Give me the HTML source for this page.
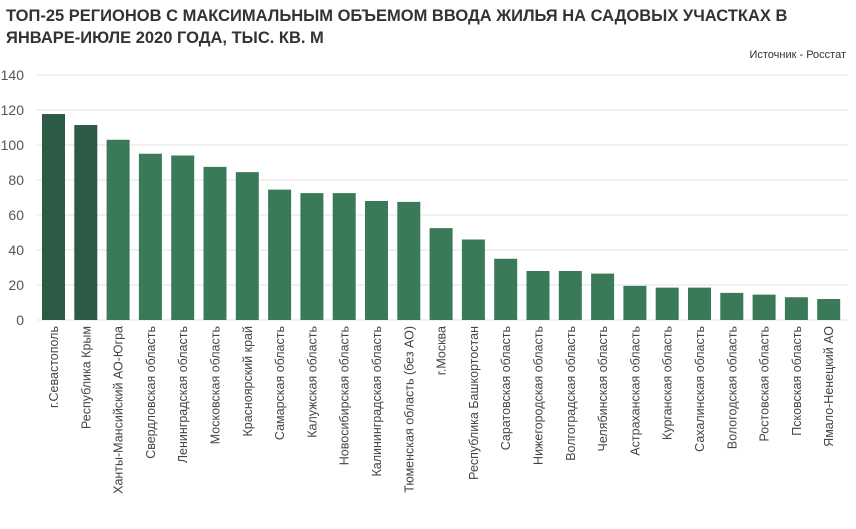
<!DOCTYPE html>
<html><head><meta charset="utf-8"><style>
body{margin:0;background:#fff;width:856px;height:524px;overflow:hidden;font-family:"Liberation Sans",sans-serif}
</style></head><body>
<svg width="856" height="524">
<text x="6" y="21" font-size="16.5" font-weight="bold" fill="#333">ТОП-25 РЕГИОНОВ С МАКСИМАЛЬНЫМ ОБЪЕМОМ ВВОДА ЖИЛЬЯ НА САДОВЫХ УЧАСТКАХ В</text>
<text x="6" y="43" font-size="16.5" font-weight="bold" fill="#333">ЯНВАРЕ-ИЮЛЕ 2020 ГОДА, ТЫС. КВ. М</text>
<text x="846" y="58" font-size="11" fill="#333" text-anchor="end">Источник - Росстат</text>
<g id="grid"></g><g id="bars"></g><g id="labels"></g>
</svg>
<script>
const categories=["г.Севастополь","Республика Крым","Ханты-Мансийский АО-Югра","Свердловская область","Ленинградская область","Московская область","Красноярский край","Самарская область","Калужская область","Новосибирская область","Калининградская область","Тюменская область (без АО)","г.Москва","Республика Башкортостан","Саратовская область","Нижегородская область","Волгоградская область","Челябинская область","Астраханская область","Курганская область","Сахалинская область","Вологодская область","Ростовская область","Псковская область","Ямало-Ненецкий АО"];
const values=[117.7,111.4,103,95,94,87.5,84.5,74.5,72.5,72.5,68,67.5,52.5,46,35,28,28,26.5,19.5,18.5,18.5,15.5,14.5,13,12];
const ticks=[0,20,40,60,80,100,120,140];
const NS="http://www.w3.org/2000/svg";
const y=v=>320-v*1.75;
const x0=42,step=32.3,bw=23;
const g=document.getElementById('grid'),b=document.getElementById('bars'),l=document.getElementById('labels');
ticks.forEach(t=>{
 const ln=document.createElementNS(NS,'line');
 ln.setAttribute('x1',37);ln.setAttribute('x2',848);ln.setAttribute('y1',y(t));ln.setAttribute('y2',y(t));
 ln.setAttribute('stroke','#e3e3e3');ln.setAttribute('stroke-width','1');
 
 
 g.appendChild(ln);
 const tx=document.createElementNS(NS,'text');
 tx.setAttribute('x',24);tx.setAttribute('y',y(t)+5);tx.setAttribute('text-anchor','end');
 tx.setAttribute('font-size','14');tx.setAttribute('fill','#555');tx.textContent=t;
 
 
 g.appendChild(tx);
});
categories.forEach((c,i)=>{
 const r=document.createElementNS(NS,'rect');
 const x=x0+i*step;
 r.setAttribute('x',x);r.setAttribute('width',bw);r.setAttribute('y',y(values[i]));r.setAttribute('height',320-y(values[i]));
 r.setAttribute('fill',i<2?'#2c5a44':'#3a7a58');
 
 
 b.appendChild(r);
 const tx=document.createElementNS(NS,'text');
 const cx=x+bw/2+4.5;
 tx.setAttribute('transform','translate('+cx+',326) rotate(-90)');
 tx.setAttribute('text-anchor','end');tx.setAttribute('font-size','12.5');tx.setAttribute('fill','#444');
 tx.textContent=c;
 
 
 l.appendChild(tx);
});
</script>
</body></html>
